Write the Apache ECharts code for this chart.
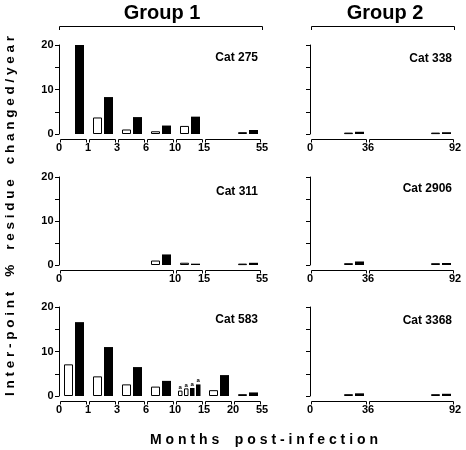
<!DOCTYPE html>
<html><head><meta charset="utf-8">
<script src="https://cdn.jsdelivr.net/npm/echarts@6/dist/echarts.min.js"></script>
<style>html,body{margin:0;padding:0;background:#fff}#c{width:466px;height:450px}</style>
</head><body><div id="c"></div><script>
// ---------------- data ----------------
const groupNames = ['Group 1', 'Group 2'];
const catNames = ['Cat 275', 'Cat 311', 'Cat 583', 'Cat 338', 'Cat 2906', 'Cat 3368'];
const yTickLabels = ['0', '10', '20'];
const xTitle = 'Months post-infection';
const yTitle = 'Inter-point % residue changed/year';

// bracket boundary labels (months post-infection)
const ticks275 = ['0', '1', '3', '6', '10', '15', '55'];
const ticks311 = ['0', '10', '15', '55'];
const ticks583 = ['0', '1', '3', '6', '10', '15', '20', '55'];
const ticksG2 = ['0', '36', '92'];

// open (white) and filled (black) bar values per interval
const open275 = [null, 3.6, 0.9, 0.5, 1.7, 0.3];
const filled275 = [20, 8.3, 3.8, 1.9, 3.9, 0.9];
const open311 = [0.9, 0.4, 0.2];
const filled311 = [2.4, 0.3, 0.5];
const open583 = [7.0, 4.3, 2.5, 2.0, [1.1, 1.6], 1.2, 0.3];
const filled583 = [16.6, 11.0, 6.5, 3.4, [1.8, 2.6], 4.7, 0.8];
const marks583 = [null, null, null, null, ['a', 'a', 'a', 'a'], null, null];
const open338 = [0.2, 0.2];
const filled338 = [0.5, 0.4];
const open2906 = [0.3, 0.3];
const filled2906 = [0.8, 0.45];
const open3368 = [0.3, 0.3];
const filled3368 = [0.6, 0.5];

// ---------------- layout ----------------
const FONT = '"Liberation Sans", Arial, sans-serif';
const spans275 = [1, 1, 1, 1, 1, 2];
const spans311 = [4, 1, 2];
const spans583 = [1, 1, 1, 1, 1, 1, 1];
const spansG2 = [2, 3];
const rowTop = [45, 177, 307];
const rowH = [89, 88, 89];
const colLeft = [59, 310];
const colW = [203, 145];
const colSlots = [7, 5];
const colAxisOffset = [2.5, 4];

const panels = [
  { name: catNames[0], ticks: ticks275, open: open275, filled: filled275, spans: spans275, col: 0, row: 0, labelY: 58 },
  { name: catNames[1], ticks: ticks311, open: open311, filled: filled311, spans: spans311, col: 0, row: 1, labelY: 192 },
  { name: catNames[2], ticks: ticks583, open: open583, filled: filled583, spans: spans583, col: 0, row: 2, labelY: 320, marks: marks583 },
  { name: catNames[3], ticks: ticksG2, open: open338, filled: filled338, spans: spansG2, col: 1, row: 0, labelY: 59 },
  { name: catNames[4], ticks: ticksG2, open: open2906, filled: filled2906, spans: spansG2, col: 1, row: 1, labelY: 189 },
  { name: catNames[5], ticks: ticksG2, open: open3368, filled: filled3368, spans: spansG2, col: 1, row: 2, labelY: 321 }
];

function spaced(s, wordGap) {
  return s.split(' ').map(w => w.split('').join(' ')).join(wordGap);
}

function makeBarRenderer(pn) {
  return function (params, api) {
    const k = api.value(1);
    const cx = api.coord([api.value(0), 0])[0];
    const y0 = api.coord([api.value(0), 0])[1];
    const opens = [].concat(pn.open[k]);
    const fills = [].concat(pn.filled[k]);
    const bars = opens.map(v => ({ v: v, open: true })).concat(fills.map(v => ({ v: v, open: false })));
    const n = bars.length;
    const w = n > 2 ? 4.5 : 9;
    const gap = n > 2 ? 1.5 : 2;
    const total = n * w + (n - 1) * gap;
    const children = [];
    bars.forEach((b, i) => {
      if (b.v == null) return;
      const top = api.coord([api.value(0), b.v])[1];
      const x = Math.round(cx - total / 2 + i * (w + gap));
      if (b.open) {
        children.push({ type: 'rect', shape: { x: x + 0.5, y: top, width: w - 1, height: Math.max(y0 - top - 0.5, 0.5) },
          style: { fill: '#fff', stroke: '#000', lineWidth: 1 } });
      } else {
        children.push({ type: 'rect', shape: { x: x, y: top, width: w, height: y0 - top },
          style: { fill: '#000' } });
      }
      if (pn.marks && pn.marks[k] && pn.marks[k][i]) {
        children.push({ type: 'text', x: x + w / 2, y: top - 4,
          style: { text: pn.marks[k][i], font: 'bold 6px ' + FONT, fill: '#000',
            align: 'center', verticalAlign: 'middle', textAlign: 'center', textVerticalAlign: 'middle' } });
      }
    });
    return { type: 'group', children: children };
  };
}

function makeBracketRenderer(pn) {
  return function (params, api) {
    const k = api.value(2);
    const p0 = api.coord([api.value(0), 0]);
    const p1 = api.coord([api.value(1), 0]);
    const y = p0[1];
    const x0 = p0[0] + 1.5, x1 = p1[0] - 1.5;
    const children = [{
      type: 'polyline',
      shape: { points: [[x0, y + 8.5], [x0, y + 5.5], [x1, y + 5.5], [x1, y + 8.5]] },
      style: { stroke: '#000', lineWidth: 1, fill: null }
    }];
    const lab = (t, x) => ({ type: 'text', x: x, y: y + 14,
      style: { text: t, font: 'bold 11px ' + FONT, fill: '#000',
        align: 'center', verticalAlign: 'middle', textAlign: 'center', textVerticalAlign: 'middle' } });
    children.push(lab(pn.ticks[k], p0[0]));
    if (k === pn.spans.length - 1) children.push(lab(pn.ticks[k + 1], p1[0]));
    return { type: 'group', children: children };
  };
}

const grid = [], xAxis = [], yAxis = [], series = [];
panels.forEach((pn, i) => {
  grid.push({ left: colLeft[pn.col], top: rowTop[pn.row], width: colW[pn.col], height: rowH[pn.row] });
  xAxis.push({ type: 'value', gridIndex: i, min: 0, max: colSlots[pn.col], show: false });
  yAxis.push({
    type: 'value', gridIndex: i, min: 0, max: 20, interval: 5, offset: colAxisOffset[pn.col],
    axisLine: { show: true, lineStyle: { color: '#000', width: 1 } },
    axisTick: { show: true, length: 4, lineStyle: { color: '#000', width: 1 } },
    splitLine: { show: false },
    axisLabel: {
      show: pn.col === 0, margin: 3, color: '#000', fontWeight: 'bold', fontSize: 11, fontFamily: FONT,
      formatter: v => (yTickLabels.indexOf(String(v)) >= 0 ? String(v) : '')
    }
  });
  const barData = [], brData = [];
  let start = 0;
  pn.spans.forEach((s, k) => {
    const end = start + s;
    barData.push([end - 0.5, k]);
    brData.push([start, end, k]);
    start = end;
  });
  series.push({ type: 'custom', xAxisIndex: i, yAxisIndex: i, data: barData, renderItem: makeBarRenderer(pn), silent: true });
  series.push({ type: 'custom', xAxisIndex: i, yAxisIndex: i, data: brData, renderItem: makeBracketRenderer(pn), silent: true, clip: false });
});

const txt = (t, x, y, size, align, rot) => ({
  type: 'text', x: x, y: y, rotation: rot || 0, silent: true,
  style: { text: t, font: 'bold ' + size + 'px ' + FONT, fill: '#000',
    align: align, verticalAlign: 'middle', textAlign: align, textVerticalAlign: 'middle' }
});

const graphic = [
  txt(groupNames[0], 162, 13, 20, 'center'),
  txt(groupNames[1], 385, 13, 20, 'center'),
  { type: 'polyline', silent: true, shape: { points: [[59.5, 30], [59.5, 26.5], [262.5, 26.5], [262.5, 30]] }, style: { stroke: '#000', lineWidth: 1, fill: null } },
  { type: 'polyline', silent: true, shape: { points: [[311.5, 30], [311.5, 26.5], [454.5, 26.5], [454.5, 30]] }, style: { stroke: '#000', lineWidth: 1, fill: null } },
  txt(spaced(xTitle, '    '), 264, 440, 14, 'center'),
  txt(spaced(yTitle, '    '), 10, 216, 13.5, 'center', Math.PI / 2)
];
panels.forEach(pn => {
  graphic.push(txt(pn.name, pn.col === 0 ? 258 : 452, pn.labelY, 12, 'right'));
});

const chart = echarts.init(document.getElementById('c'), null, { renderer: 'canvas' });
chart.setOption({ animation: false, backgroundColor: '#fff', grid, xAxis, yAxis, series, graphic });
</script></body></html>
